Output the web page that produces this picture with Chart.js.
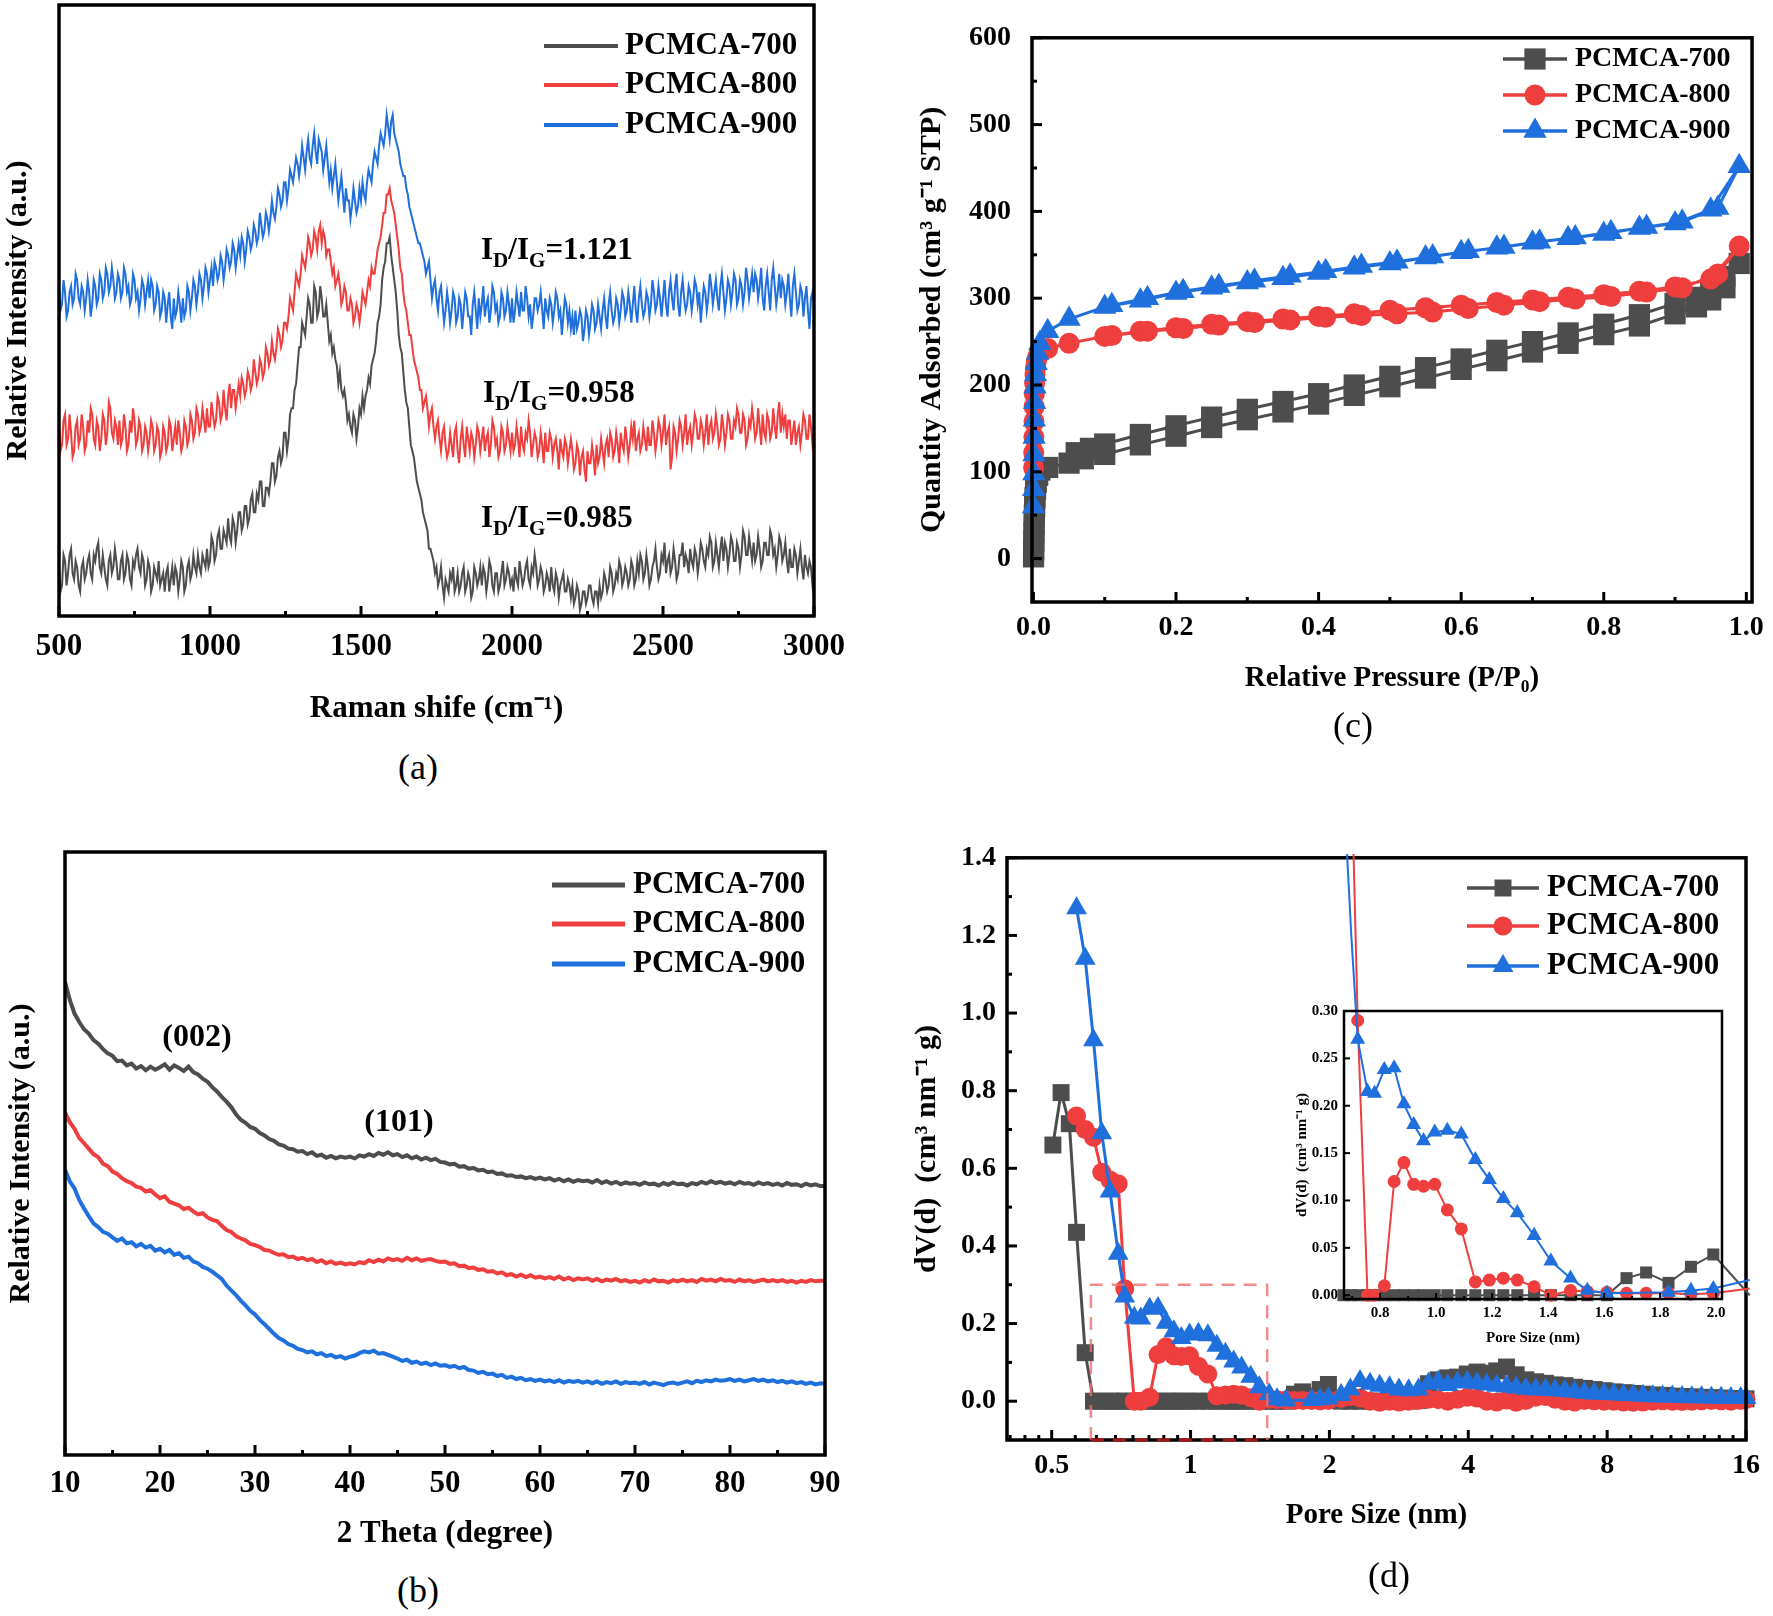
<!DOCTYPE html>
<html>
<head>
<meta charset="utf-8">
<title>PCMCA characterisation</title>
<script src="https://cdn.jsdelivr.net/npm/chart.js@4.4.1/dist/chart.umd.min.js"></script>
<style>
  body { margin: 0; background: #fff; width: 1773px; height: 1616px; position: relative; overflow: hidden;
         font-family: "Liberation Serif", "Times New Roman", serif; color: #000; }
  canvas { position: absolute; }
  .lbl { position: absolute; white-space: nowrap; line-height: 1; transform: translate(-50%, -50%); }
  .lbl.left { transform: translate(0, -50%); }
  .bold { font-weight: bold; }
  .lbl sub { font-size: 0.68em; vertical-align: -0.35em; }
</style>
</head>
<body>
<canvas id="ramanChart" style="left:0px;top:0px" width="886" height="740"></canvas>
<canvas id="xrdChart" style="left:0px;top:830px" width="886" height="740"></canvas>
<canvas id="isoChart" style="left:886px;top:0px" width="887" height="740"></canvas>
<canvas id="psdChart" style="left:886px;top:830px" width="887" height="740"></canvas>
<canvas id="insetChart" style="left:1280px;top:854px" width="480" height="506"></canvas>

<div class="lbl" style="left:418px;top:767px;font-size:36px">(a)</div>
<div class="lbl" style="left:418px;top:1590px;font-size:36px">(b)</div>
<div class="lbl" style="left:1353px;top:725px;font-size:36px">(c)</div>
<div class="lbl" style="left:1389px;top:1575px;font-size:36px">(d)</div>

<div class="lbl left bold" style="left:481px;top:252px;font-size:31px">I<sub>D</sub>/I<sub>G</sub>=1.121</div>
<div class="lbl left bold" style="left:483px;top:395px;font-size:31px">I<sub>D</sub>/I<sub>G</sub>=0.958</div>
<div class="lbl left bold" style="left:481px;top:520px;font-size:31px">I<sub>D</sub>/I<sub>G</sub>=0.985</div>

<div class="lbl bold" style="left:197px;top:1035px;font-size:32px">(002)</div>
<div class="lbl bold" style="left:399px;top:1120px;font-size:32px">(101)</div>

<script>
// ---- data -------------------------------------------------------------

var sampleNames = ['PCMCA-700', 'PCMCA-800', 'PCMCA-900'];

// (a) Raman, 500-3000 cm-1 every 5 cm-1, intensity in arbitrary units (0-100 = frame)
var ramanStart = 500, ramanStep = 5;
var raman700 = [
  8,4,5,10,9,5,7,10,11,7,6,9,8,5,4,8,9,6,7,9,
  10,7,6,10,9,11,12,8,7,10,8,6,5,9,10,7,8,11,9,6,
  6,9,10,6,7,10,9,6,5,9,8,10,11,8,7,10,9,5,6,9,
  8,4,5,8,7,6,9,5,6,7,4,7,8,4,6,8,5,8,7,4,
  6,9,8,4,5,8,9,6,7,10,8,7,10,8,7,10,9,8,11,8,
  9,13,12,9,10,13,14,11,11,14,13,12,16,13,12,16,15,12,14,17,
  17,14,15,18,18,15,16,19,20,17,17,20,19,22,22,18,18,21,21,20,
  22,25,25,22,23,26,27,25,26,30,30,27,29,33,34,34,37,38,41,44,
  44,48,47,46,49,52,51,48,48,54,53,49,50,54,52,49,49,51,48,45,
  46,43,44,42,41,38,40,37,36,37,35,32,33,31,30,33,32,29,31,34,
  33,36,34,36,37,39,38,41,42,43,45,48,49,51,55,57,58,61,61,62,
  59,57,55,53,50,46,44,43,40,37,35,34,31,28,27,26,24,22,21,20,
  19,17,16,15,14,11,11,10,9,7,8,5,6,8,5,3,6,5,4,7,
  6,8,4,5,7,4,5,7,8,4,5,7,6,3,4,8,7,5,6,8,
  5,8,7,4,6,9,8,5,4,7,7,4,5,7,9,5,6,8,7,5,
  6,4,8,6,5,9,7,5,6,8,9,6,5,8,7,10,8,5,6,8,
  7,4,5,7,6,4,8,5,4,7,6,3,5,6,7,4,4,6,5,3,
  5,2,3,5,4,1,2,4,4,2,3,5,5,3,2,4,4,2,5,3,
  4,7,6,4,5,8,7,4,5,7,6,9,8,5,6,8,7,5,6,9,
  8,5,6,9,7,10,9,6,7,10,8,5,6,8,9,11,8,6,7,10,
  9,12,7,9,10,7,8,11,9,6,7,10,10,12,8,10,9,7,11,9,
  8,11,10,7,9,12,11,9,8,11,10,13,12,8,9,12,10,8,11,13,
  9,12,11,8,10,13,12,9,9,12,11,8,10,14,13,10,10,13,11,9,
  12,9,10,13,11,8,9,12,12,10,10,14,13,10,11,8,10,13,12,9,
  10,12,9,7,11,8,8,11,10,7,9,11,8,6,10,8,7,9,8,5,
  7
];
var raman800 = [
  31,27,28,32,33,28,29,33,30,26,27,31,32,28,29,33,31,27,28,32,
  30,34,33,29,28,32,31,27,29,33,32,28,30,35,34,30,29,32,31,28,
  32,28,29,33,31,27,28,32,30,34,32,28,29,32,31,27,28,31,30,27,
  29,32,31,27,28,31,30,26,27,31,30,27,28,32,31,27,29,31,28,32,
  30,27,28,32,31,28,29,33,32,29,30,34,33,30,31,34,32,30,34,31,
  31,35,33,31,32,36,35,32,33,37,34,32,36,38,34,37,37,34,36,38,
  36,39,38,36,37,40,39,37,38,42,40,38,39,42,41,39,40,44,43,41,
  42,45,43,42,44,47,46,44,45,48,48,47,49,52,51,50,53,56,55,54,
  56,59,58,57,59,62,61,59,60,63,62,60,63,64,61,63,62,59,60,60,
  58,56,57,54,55,56,54,51,52,54,53,50,50,52,51,48,49,51,50,48,
  50,53,52,51,53,55,54,57,56,56,58,60,61,62,64,66,66,69,69,70,
  68,67,66,64,62,60,57,56,53,51,50,48,46,46,44,42,41,40,39,37,
  37,34,35,36,34,31,33,34,31,29,31,32,29,27,30,31,28,26,27,30,
  28,26,30,31,27,25,29,31,28,26,31,29,27,30,29,26,28,31,30,27,
  29,31,27,29,30,26,28,32,31,28,29,26,27,31,30,27,28,31,29,27,
  30,27,28,31,29,26,31,28,27,30,29,32,30,26,28,30,29,26,27,30,
  28,25,30,27,27,30,29,26,28,29,27,24,29,27,26,29,28,25,27,29,
  27,24,25,28,27,23,26,27,24,22,27,25,25,28,26,23,28,25,26,29,
  27,25,28,29,26,30,29,26,27,30,28,25,30,28,27,31,29,26,28,31,
  29,32,27,29,30,27,28,31,29,27,31,28,28,32,30,27,29,32,31,28,
  30,33,28,30,31,24,26,31,30,27,29,32,31,28,30,33,28,30,31,28,
  30,33,32,29,29,32,31,28,30,33,28,31,32,29,30,33,31,28,29,33,
  31,28,30,33,32,29,29,32,31,34,33,30,30,33,32,28,29,32,31,34,
  32,29,30,34,31,28,33,30,29,33,32,29,30,34,31,29,33,35,30,33,
  31,33,29,32,32,28,30,32,28,30,31,28,30,33,32,29,29,33,31,28,
  30
];
var raman900 = [
  54,50,51,55,53,49,50,53,54,51,52,56,55,52,51,54,53,50,52,55,
  53,49,51,55,54,51,52,56,55,52,53,57,56,53,54,57,55,52,53,56,
  55,52,53,57,56,53,54,51,52,56,55,52,53,50,52,55,54,51,53,55,
  52,55,54,50,51,54,53,49,50,53,52,48,51,53,49,47,52,49,50,53,
  51,48,52,49,50,54,53,50,52,55,54,51,53,56,55,52,54,57,56,53,
  55,57,54,58,57,55,56,59,58,55,57,60,59,57,58,61,60,57,59,61,
  59,62,61,58,60,63,62,60,61,64,63,61,62,66,64,62,63,66,65,63,
  65,68,66,65,67,70,69,67,68,71,71,68,70,73,72,71,73,75,74,72,
  74,77,75,73,76,78,75,74,77,79,76,74,78,77,76,73,75,77,74,71,
  73,70,72,74,71,68,70,72,69,66,70,68,68,65,67,70,68,66,67,70,
  68,71,69,68,71,73,72,71,74,76,75,74,77,79,78,77,79,82,80,78,
  81,82,79,78,77,76,74,73,72,72,70,69,67,66,65,64,63,62,61,61,
  60,59,58,56,57,58,55,52,54,55,52,50,53,54,51,48,50,53,51,48,
  50,53,52,48,49,52,51,47,50,53,52,49,49,46,51,53,50,47,52,49,
  51,54,49,51,52,48,50,54,53,50,51,48,49,53,52,49,50,53,51,48,
  52,48,50,53,51,49,53,50,50,54,52,49,51,47,49,52,52,50,51,53,
  50,47,52,50,49,52,51,48,50,53,52,49,50,46,49,52,51,48,50,47,
  49,46,50,47,48,50,49,45,47,50,49,46,48,51,50,47,48,51,49,47,
  50,52,49,47,51,53,50,48,49,52,51,48,50,53,52,49,50,53,51,48,
  51,54,50,48,52,54,51,49,50,53,52,49,51,55,53,50,51,54,52,49,
  52,55,51,49,53,55,52,50,54,56,51,49,53,55,52,50,51,54,53,50,
  52,55,54,51,53,48,51,54,53,50,52,56,54,51,53,55,52,50,54,56,
  53,50,52,55,54,51,53,56,55,51,52,55,54,51,53,57,55,52,54,56,
  53,56,55,52,54,57,52,50,54,56,53,50,55,57,54,51,53,56,52,55,
  54,51,53,56,52,49,54,56,53,50,51,54,53,49,52,54,50,47,52,53,
  51
];
var ramanTicks = [500, 1000, 1500, 2000, 2500, 3000];

// (b) XRD, 10-90 degree every 0.5 degree
var xrdStart = 10, xrdStep = 0.5;
var xrd700 = [
  78.5,75.5,73.2,71.8,70.6,69.9,68.8,68.2,67.3,66.6, 66.2,65.3,65.4,64.6,64.9,64.1,64.5,63.8,64.4,63.9,
  64.3,64.8,63.9,64.6,64.2,63.7,64.4,63.5,63.1,62.4, 61.9,61.0,60.3,59.4,58.6,57.7,56.5,55.6,55.1,54.4,
  54.1,53.4,53.0,52.4,52.1,51.5,51.3,50.8,50.7,50.3, 50.4,49.9,50.2,49.6,49.8,49.3,49.6,49.2,49.5,49.3,
  49.5,49.2,49.7,49.5,49.9,49.6,50.1,49.8,50.2,49.7, 49.9,49.4,49.7,49.2,49.5,49.0,49.3,48.9,49.1,48.6,
  48.5,48.2,48.3,47.8,47.9,47.5,47.6,47.2,47.3,46.9, 47.0,46.6,46.7,46.3,46.4,46.1,46.2,45.9,46.1,45.8,
  46.0,45.7,45.9,45.5,45.8,45.4,45.7,45.3,45.6,45.4, 45.5,45.2,45.6,45.1,45.4,45.0,45.3,44.9,45.2,45.0,
  45.1,44.8,45.2,44.9,45.0,44.7,45.1,44.8,45.2,44.9, 45.0,44.7,45.1,44.9,45.3,45.0,45.4,45.1,45.3,45.0,
  45.2,44.9,45.3,45.0,45.1,44.8,45.2,44.9,45.1,44.8, 45.0,44.7,45.1,44.8,44.9,44.6,45.0,44.7,44.9,44.6,
  44.6
];
var xrd800 = [
  56.8,55.2,54.1,52.6,51.7,50.8,49.9,49.4,48.3,47.9, 47.0,46.6,45.9,45.4,45.1,44.5,44.3,43.7,43.9,43.2,
  42.6,42.9,42.0,41.7,41.4,40.8,41.0,40.4,39.9,40.1, 39.4,39.0,38.8,38.0,37.3,37.0,36.3,35.9,35.6,35.0,
  34.8,34.5,34.0,33.9,33.5,33.2,33.3,32.8,32.9,32.5, 32.7,32.3,32.5,32.0,32.3,31.8,32.1,31.7,31.9,31.6,
  31.8,31.6,32.0,31.8,32.3,32.0,32.4,32.1,32.6,32.3, 32.5,32.2,32.7,32.3,32.6,32.2,32.4,32.5,32.2,32.0,
  32.1,31.7,31.8,31.3,31.4,31.0,31.1,30.7,30.8,30.4, 30.5,30.1,30.3,29.8,30.0,29.6,29.9,29.5,29.8,29.4,
  29.6,29.3,29.5,29.2,29.6,29.1,29.4,29.0,29.3,29.1, 29.3,28.9,29.2,28.8,29.1,28.9,29.2,28.8,29.0,28.7,
  28.9,28.6,29.0,28.7,29.1,28.8,28.9,28.6,29.0,28.8, 29.1,28.8,29.0,28.7,29.2,28.9,29.1,28.8,29.2,28.9,
  29.0,28.7,29.1,28.8,29.0,28.7,28.9,29.1,28.8,29.0, 28.8,29.0,28.7,28.9,28.6,28.9,28.7,29.0,28.8,28.9,
  28.9
];
var xrd900 = [
  47.3,45.4,44.2,42.3,40.9,39.6,38.4,37.8,37.0,36.7, 36.1,35.5,35.9,35.1,35.3,34.6,35.0,34.4,34.7,33.9,
  34.2,33.6,34.0,33.2,33.5,32.7,32.9,32.1,31.8,31.2, 30.9,30.4,29.8,29.2,28.1,27.3,26.5,25.6,24.8,23.9,
  23.3,22.4,21.7,20.9,20.1,19.4,19.0,18.4,18.1,17.6, 17.4,17.0,17.2,16.7,16.9,16.4,16.6,16.2,16.4,16.0,
  16.3,16.5,16.9,17.2,17.0,17.3,16.8,16.9,16.6,16.3, 16.0,15.6,15.8,15.3,15.5,15.1,15.3,14.9,15.2,14.8,
  14.9,14.6,14.8,14.4,14.6,14.1,14.0,13.6,13.8,13.4, 13.5,13.1,13.3,12.8,13.0,12.6,12.8,12.4,12.6,12.3,
  12.5,12.2,12.4,12.1,12.4,12.0,12.3,12.1,12.3,12.0, 12.2,11.9,12.2,11.8,12.1,11.9,12.2,11.8,12.1,11.9,
  12.0,11.8,12.1,11.7,12.0,11.8,11.6,11.9,12.0,11.8, 12.0,12.2,11.9,12.3,12.1,12.4,12.2,12.5,12.3,12.4,
  12.6,12.3,12.5,12.2,12.4,12.6,12.3,12.5,12.2,12.4, 12.1,12.3,12.0,12.2,11.9,12.1,11.8,12.0,11.7,11.9,
  11.8
];
var xrdTicks = [10, 20, 30, 40, 50, 60, 70, 80, 90];

// (c) N2 isotherms: adsorption branch followed by desorption branch
var isoP700 = [0.0002,0.0004,0.0006,0.0008,0.001,0.0013,0.0017,0.0022,0.003,0.004,0.006,0.009,0.02,0.05,0.07,0.1,
  0.15,0.2,0.25,0.3,0.35,0.4,0.45,0.5,0.55,0.6,0.65,0.7,0.75,0.8,0.85,0.9,0.93,0.95,0.97,0.99,
  0.97,0.95,0.93,0.9,0.85,0.8,0.75,0.7,0.65,0.6,0.55,0.5,0.45,0.4,0.35,0.3,0.25,0.2,0.15,0.1,0.08,0.06];
var isoQ700 = [2,10,20,30,40,50,60,70,80,88,96,102,105,110,115,120,
  131,141,151,160,169,178,188,198,208,218,228,238,248,258,268,282,290,298,312,340,
  325,310,301,294,281,270,260,250,240,230,220,210,200,190,181,172,163,153,143,132,127,122];
var isoP800 = [0.0002,0.0004,0.0006,0.0008,0.001,0.0013,0.0017,0.0022,0.003,0.004,0.006,0.009,0.02,0.05,0.1,
  0.15,0.2,0.25,0.3,0.35,0.4,0.45,0.5,0.55,0.6,0.65,0.7,0.75,0.8,0.85,0.9,0.95,0.99,
  0.96,0.91,0.86,0.81,0.76,0.71,0.66,0.61,0.56,0.51,0.46,0.41,0.36,0.31,0.26,0.21,0.16,0.11];
var isoQ800 = [105,122,140,158,175,190,202,212,220,227,233,238,242,248,256,
  262,266,270,273,276,279,282,286,289,292,295,298,301,304,308,313,322,360,
  328,312,307,302,299,296,292,288,284,282,280,278,275,272,269,265,262,257];
var isoP900 = isoP800;
var isoQ900 = [60,80,98,120,140,160,180,198,212,225,237,248,262,276,290,
  297,306,312,318,323,329,335,340,347,353,358,364,369,374,381,386,402,452,
  404,388,382,376,370,365,359,354,348,342,337,331,326,320,314,308,300,292];
var isoXTicks = [0, 0.2, 0.4, 0.6, 0.8, 1.0];
var isoYTicks = [0, 100, 200, 300, 400, 500, 600];

// (d) pore size distribution (nm) and dV(d)
var poreSize = [0.503,0.524,0.546,0.566,0.591,0.616,0.642,0.669,0.697,0.72,0.755,0.78,0.815,0.85,0.885,0.92,0.955,
  0.995,1.04,1.09,1.14,1.19,1.24,1.29,1.35,1.41,1.48,1.54,1.61,1.68,1.75,1.83,1.91,1.99,2.12,2.22,2.33,2.45,2.57,
  2.7,2.83,2.97,3.12,3.28,3.44,3.61,3.79,3.98,4.18,4.39,4.61,4.84,5.08,5.33,5.6,5.88,6.17,6.48,6.8,7.14,7.5,
  7.88,8.27,8.68,9.11,9.57,10.05,10.55,11.08,11.63,12.21,12.82,13.46,14.13,14.84,15.58,16.0];
var psd700 = [0.66,0.795,0.715,0.435,0.125,0,0,0,0,0,0,0,0,0,0,0,0,
  0,0,0,0,0,0,0,0,0,0,0,0,0.018,0.024,0.013,0.03,0.043,0,0,0,0,0,
  0,0,0,0.002,0.045,0.055,0.06,0.062,0.07,0.075,0.072,0.078,0.088,0.068,0.055,0.05,0.046,0.042,0.04,0.036,0.033,0.03,
  0.027,0.024,0.022,0.02,0.018,0.016,0.015,0.013,0.012,0.011,0.01,0.009,0.008,0.007,0.006,0.006];
var psd800 = [null,null,null,0.735,0.70,0.68,0.59,0.57,0.56,0.29,0,0,0.01,0.12,0.14,0.117,0.115,
  0.117,0.09,0.07,0.014,0.016,0.018,0.016,0.009,0,0.005,0.004,0.003,0.002,0.002,0.002,0.001,0.002,0.007,0.012,0.008,0,-0.003,
  0,-0.002,0,0.002,0.005,0.004,0,0.005,0.01,0.008,0,-0.002,0.003,-0.003,0.002,0.01,0.012,0.005,0,-0.002,0.002,0.001,
  0,0,-0.002,-0.003,-0.002,0,0.001,0,-0.001,0,0.001,0.002,0.001,0,0.002,0.004];
var psd900 = [null,null,null,1.27,1.14,0.93,0.69,0.54,0.38,0.27,0.215,0.213,0.238,0.24,0.202,0.18,0.163,
  0.172,0.174,0.17,0.143,0.122,0.102,0.087,0.063,0.036,0.018,0.005,0.002,null,null,0.003,0.005,0.007,0.016,0.03,0.052,0.045,0.04,
  0.036,0.03,0.028,0.03,0.045,0.05,0.042,0.048,0.05,0.046,0.043,0.04,0.038,0.035,0.032,0.03,0.03,0.028,0.026,0.024,0.022,0.02,
  0.019,0.018,0.016,0.015,0.014,0.013,0.012,0.012,0.011,0.01,0.01,0.009,0.009,0.008,0.008,0.008];
var psdXTicks = [0.5, 1, 2, 4, 8, 16];
var psdYTicks = [0, 0.2, 0.4, 0.6, 0.8, 1.0, 1.2, 1.4];
var insetXTicks = [0.8, 1.0, 1.2, 1.4, 1.6, 1.8, 2.0];
var insetYTicks = [0, 0.05, 0.10, 0.15, 0.20, 0.25, 0.30];
// dashed box marking the zoomed region (pore size nm, dV(d))
var zoomRegion = { xMin: 0.608, xMax: 1.466, yMin: -0.1, yMax: 0.3 };

// ---- helpers ----------------------------------------------------------

var SERIF = '"Liberation Serif", "Times New Roman", serif';
var colors = ['#4d4d4d', '#ef3e3e', '#1f6fdd'];
var markers = ['rect', 'circle', 'triangle'];

Chart.defaults.font.family = SERIF;
Chart.defaults.color = '#000';

function gridPoints(start, step, values) {
  return values.map(function (v, i) { return { x: start + i * step, y: v }; });
}

function pairPoints(xs, ys) {
  var out = [];
  xs.forEach(function (x, i) { if (ys[i] !== null) out.push({ x: x, y: ys[i] }); });
  return out;
}

function font(size, bold) {
  return { family: SERIF, size: size, weight: bold === false ? 'normal' : 'bold' };
}

function fixTicks(values) {
  return function (scale) { scale.ticks = values.map(function (v) { return { value: v }; }); };
}

function axis(o) {
  var isX = o.isX;
  return {
    type: o.type || 'linear',
    min: o.min,
    max: o.max,
    afterBuildTicks: o.ticks ? fixTicks(o.ticks) : undefined,
    afterFit: function (scale) { if (isX) scale.height = o.size; else scale.width = o.size; },
    grid: { display: false, drawTicks: false },
    border: { display: false },
    ticks: {
      display: !!o.ticks,
      font: font(o.tickSize || 28),
      color: '#000',
      padding: o.tickPad || 8,
      maxRotation: 0,
      autoSkip: false,
      callback: o.format || function (v) { return String(v); }
    },
    title: {
      display: true,
      text: o.title,
      font: font(o.titleSize || 30),
      color: '#000',
      padding: isX ? { top: 0, bottom: o.titlePad } : { top: o.titlePad, bottom: 0 }
    }
  };
}

// frame round the plot area plus inward tick marks
var frameTicks = {
  id: 'frameTicks',
  afterDatasetsDraw: function (chart, args, o) {
    var ctx = chart.ctx, a = chart.chartArea;
    ctx.save();
    ctx.strokeStyle = '#000';
    ctx.lineWidth = o.frame;
    ctx.strokeRect(a.left, a.top, a.right - a.left, a.bottom - a.top);
    ctx.lineWidth = o.tickWidth;
    ['x', 'y'].forEach(function (id) {
      if (!o[id]) return;
      var scale = chart.scales[id];
      [[o[id].major || [], o.majorLen], [o[id].minor || [], o.minorLen]].forEach(function (set) {
        set[0].forEach(function (v) {
          var p = scale.getPixelForValue(v);
          ctx.beginPath();
          if (id === 'x') { ctx.moveTo(p, a.bottom); ctx.lineTo(p, a.bottom - set[1]); }
          else { ctx.moveTo(a.left, p); ctx.lineTo(a.left + set[1], p); }
          ctx.stroke();
        });
      });
    });
    ctx.restore();
  }
};

function drawMarker(ctx, style, r, x, y) {
  if (Chart.helpers && Chart.helpers.drawPoint) {
    Chart.helpers.drawPoint(ctx, { pointStyle: style, radius: r, rotation: 0, borderWidth: 0 }, x, y);
    return;
  }
  ctx.beginPath();
  if (style === 'circle') ctx.arc(x, y, r, 0, Math.PI * 2);
  else if (style === 'rect') { var s = r * Math.SQRT1_2; ctx.rect(x - s, y - s, 2 * s, 2 * s); }
  else { ctx.moveTo(x, y - r); ctx.lineTo(x + r * 0.866, y + r / 2); ctx.lineTo(x - r * 0.866, y + r / 2); ctx.closePath(); }
  ctx.fill();
}

// legend drawn inside the frame: line sample (with marker) and label
var lineLegend = {
  id: 'lineLegend',
  afterDraw: function (chart, args, o) {
    if (!o.rows) return;
    var ctx = chart.ctx;
    ctx.save();
    chart.data.datasets.forEach(function (ds, i) {
      var y = o.rows[i];
      ctx.strokeStyle = ds.borderColor;
      ctx.lineWidth = o.lineWidth;
      ctx.beginPath(); ctx.moveTo(o.x0, y); ctx.lineTo(o.x1, y); ctx.stroke();
      if (o.markers) {
        ctx.fillStyle = ds.borderColor;
        drawMarker(ctx, ds.pointStyle, ds.pointRadius, (o.x0 + o.x1) / 2, y);
      }
      ctx.fillStyle = '#000';
      ctx.font = 'bold ' + o.fontSize + 'px ' + SERIF;
      ctx.textBaseline = 'middle';
      ctx.textAlign = 'left';
      ctx.fillText(ds.label, o.textX, y);
    });
    ctx.restore();
  }
};

// dashed rectangle on (d) marking the inset region
var zoomBox = {
  id: 'zoomBox',
  afterDatasetsDraw: function (chart, args, o) {
    if (!o.region) return;
    var ctx = chart.ctx, sx = chart.scales.x, sy = chart.scales.y;
    var l = sx.getPixelForValue(o.region.xMin), r = sx.getPixelForValue(o.region.xMax);
    var t = sy.getPixelForValue(o.region.yMax), b = sy.getPixelForValue(o.region.yMin);
    ctx.save();
    ctx.setLineDash([13, 9]);
    ctx.lineWidth = 2.5;
    ctx.strokeStyle = 'rgba(240, 110, 110, 0.8)';
    ctx.beginPath(); ctx.moveTo(l, b); ctx.lineTo(l, t); ctx.lineTo(r, t); ctx.lineTo(r, b); ctx.stroke();
    ctx.strokeStyle = '#a01818';
    ctx.lineWidth = 3.5;
    ctx.beginPath(); ctx.moveTo(l, b); ctx.lineTo(r, b); ctx.stroke();
    ctx.restore();
  }
};

function baseOptions(padding, scales, pluginOpts) {
  var plugins = { legend: { display: false }, tooltip: { enabled: false } };
  Object.keys(pluginOpts).forEach(function (k) { plugins[k] = pluginOpts[k]; });
  return {
    responsive: false,
    animation: false,
    events: [],
    devicePixelRatio: 1,
    layout: { padding: padding },
    scales: scales,
    plugins: plugins
  };
}

// ---- (a) Raman --------------------------------------------------------

new Chart(document.getElementById('ramanChart'), {
  type: 'line',
  data: {
    datasets: [raman700, raman800, raman900].map(function (vals, i) {
      return { label: sampleNames[i], data: gridPoints(ramanStart, ramanStep, vals), borderColor: colors[i],
               borderWidth: 2, pointRadius: 0, tension: 0 };
    })
  },
  options: baseOptions({ left: 0, top: 5, right: 72, bottom: 0 }, {
    x: axis({ isX: true, min: 500, max: 3000, ticks: ramanTicks, size: 124, tickSize: 31, tickPad: 12,
              title: 'Raman shife (cm\u207B\u00B9)', titleSize: 31, titlePad: 12 }),
    y: axis({ isX: false, min: 0, max: 100, size: 59, title: 'Relative Intensity (a.u.)', titleSize: 30, titlePad: 0 })
  }, {
    frameTicks: { frame: 3.5, tickWidth: 3, majorLen: 10, minorLen: 5,
                  x: { major: ramanTicks, minor: [750, 1250, 1750, 2250, 2750] } },
    lineLegend: { x0: 544, x1: 618, textX: 625, rows: [46, 85, 125], lineWidth: 4, fontSize: 31 }
  }),
  plugins: [frameTicks, lineLegend]
});

// ---- (b) XRD ----------------------------------------------------------

new Chart(document.getElementById('xrdChart'), {
  type: 'line',
  data: {
    datasets: [xrd700, xrd800, xrd900].map(function (vals, i) {
      return { label: sampleNames[i], data: gridPoints(xrdStart, xrdStep, vals), borderColor: colors[i],
               borderWidth: 4, pointRadius: 0, tension: 0 };
    })
  },
  options: baseOptions({ left: 0, top: 22, right: 61, bottom: 0 }, {
    x: axis({ isX: true, min: 10, max: 90, ticks: xrdTicks, size: 115, tickSize: 31, tickPad: 10,
              title: '2 Theta (degree)', titleSize: 31, titlePad: 17 }),
    y: axis({ isX: false, min: 0, max: 100, size: 65, title: 'Relative Intensity (a.u.)', titleSize: 30, titlePad: 3 })
  }, {
    frameTicks: { frame: 3.5, tickWidth: 3, majorLen: 10, minorLen: 5,
                  x: { major: xrdTicks, minor: [15, 25, 35, 45, 55, 65, 75, 85] } },
    lineLegend: { x0: 552, x1: 625, textX: 633, rows: [55, 94, 134], lineWidth: 5, fontSize: 31 }
  }),
  plugins: [frameTicks, lineLegend]
});

// ---- (c) isotherms ----------------------------------------------------

var isoRadius = [15, 10.5, 13.5];
new Chart(document.getElementById('isoChart'), {
  type: 'scatter',
  data: {
    datasets: [[isoP700, isoQ700], [isoP800, isoQ800], [isoP900, isoQ900]].map(function (s, i) {
      return { label: sampleNames[i], data: pairPoints(s[0], s[1]), showLine: true, borderColor: colors[i],
               backgroundColor: colors[i], borderWidth: 3, pointStyle: markers[i], pointRadius: isoRadius[i],
               pointBackgroundColor: colors[i], pointBorderWidth: 0, clip: false, order: 2 - i };
    })
  },
  options: baseOptions({ left: 0, top: 24, right: 20, bottom: 0 }, {
    x: axis({ isX: true, min: -0.002, max: 1.008, ticks: isoXTicks, size: 138, tickSize: 28, tickPad: 9,
              format: function (v) { return v.toFixed(1); },
              title: 'Relative Pressure (P/P\u2080)', titleSize: 29, titlePad: 44 }),
    y: axis({ isX: false, min: -50, max: 600, ticks: isoYTicks, size: 146, tickSize: 28, tickPad: 21,
              title: 'Quantity Adsorbed (cm\u00B3 g\u207B\u00B9 STP)', titleSize: 30, titlePad: 28 })
  }, {
    frameTicks: { frame: 3.5, tickWidth: 3, majorLen: 10, minorLen: 5,
                  x: { major: isoXTicks, minor: [0.1, 0.3, 0.5, 0.7, 0.9] },
                  y: { major: isoYTicks, minor: [50, 150, 250, 350, 450, 550] } },
    lineLegend: { x0: 617, x1: 681, textX: 689, rows: [59, 95, 131], lineWidth: 3.5, fontSize: 28, markers: true }
  }),
  plugins: [frameTicks, lineLegend]
});

// ---- (d) pore size distribution ----------------------------------------

// log2 axis minor ticks: seven linear steps inside every doubling
var psdMinor = [];
[0.25, 0.5, 1, 2, 4, 8].forEach(function (a) {
  for (var j = 1; j < 8; j++) {
    var v = a * (1 + j / 8);
    if (v > 0.4 && v < 16) psdMinor.push(v);
  }
});

var psdSeries = [psd700, psd800, psd900];
var psdRadius = [12, 9.5, 12];
new Chart(document.getElementById('psdChart'), {
  type: 'line',
  data: {
    datasets: psdSeries.map(function (vals, i) {
      return { label: sampleNames[i], data: pairPoints(poreSize, vals), borderColor: colors[i],
               backgroundColor: colors[i], borderWidth: 3, pointStyle: markers[i], pointRadius: psdRadius[i],
               pointBackgroundColor: colors[i], pointBorderWidth: 0, tension: 0, clip: false, order: 2 - i };
    })
  },
  options: baseOptions({ left: 0, top: 24, right: 27, bottom: 0 }, {
    x: axis({ isX: true, type: 'logarithmic', min: 0.4, max: 16, ticks: psdXTicks, size: 130, tickSize: 28, tickPad: 9,
              title: 'Pore Size (nm)', titleSize: 29, titlePad: 37 }),
    y: axis({ isX: false, min: -0.1, max: 1.4, ticks: psdYTicks, size: 121, tickSize: 28, tickPad: 11,
              format: function (v) { return v.toFixed(1); },
              title: 'dV(d)  (cm\u00B3 nm\u207B\u00B9 g)', titleSize: 30, titlePad: 23 })
  }, {
    frameTicks: { frame: 3.5, tickWidth: 3, majorLen: 10, minorLen: 5,
                  x: { major: psdXTicks, minor: psdMinor },
                  y: { major: psdYTicks, minor: [0.1, 0.3, 0.5, 0.7, 0.9, 1.1, 1.3] } },
    lineLegend: { x0: 581, x1: 653, textX: 661, rows: [58, 96, 136], lineWidth: 3.5, fontSize: 31, markers: true },
    zoomBox: { region: zoomRegion }
  }),
  plugins: [frameTicks, zoomBox, lineLegend]
});

// ---- (d) inset: same data, zoomed -------------------------------------

var insetRadius = [8.5, 6.5, 8.7];
new Chart(document.getElementById('insetChart'), {
  type: 'line',
  data: {
    datasets: psdSeries.map(function (vals, i) {
      return { label: sampleNames[i], data: pairPoints(poreSize, vals), borderColor: colors[i],
               backgroundColor: colors[i], borderWidth: 2, pointStyle: markers[i], pointRadius: insetRadius[i],
               pointBackgroundColor: colors[i], pointBorderWidth: 0, tension: 0, order: 2 - i,
               clip: { left: 8, top: false, right: 36, bottom: 6 } };
    })
  },
  options: baseOptions({ left: 0, top: 157, right: 38, bottom: 0 }, {
    x: axis({ isX: true, min: 0.671, max: 2.021, ticks: insetXTicks, size: 61, tickSize: 15, tickPad: 5,
              format: function (v) { return v.toFixed(1); },
              title: 'Pore Size (nm)', titleSize: 15, titlePad: 13 }),
    y: axis({ isX: false, min: -0.004, max: 0.30, ticks: insetYTicks, size: 64, tickSize: 15, tickPad: 6,
              format: function (v) { return v.toFixed(2); },
              title: 'dV(d)  (cm\u00B3 nm\u207B\u00B9 g)', titleSize: 15, titlePad: 13 })
  }, {
    frameTicks: { frame: 2.5, tickWidth: 2, majorLen: 6, minorLen: 3,
                  x: { major: insetXTicks, minor: [0.7, 0.9, 1.1, 1.3, 1.5, 1.7, 1.9] },
                  y: { major: insetYTicks } }
  }),
  plugins: [frameTicks]
});
</script>
</body>
</html>
